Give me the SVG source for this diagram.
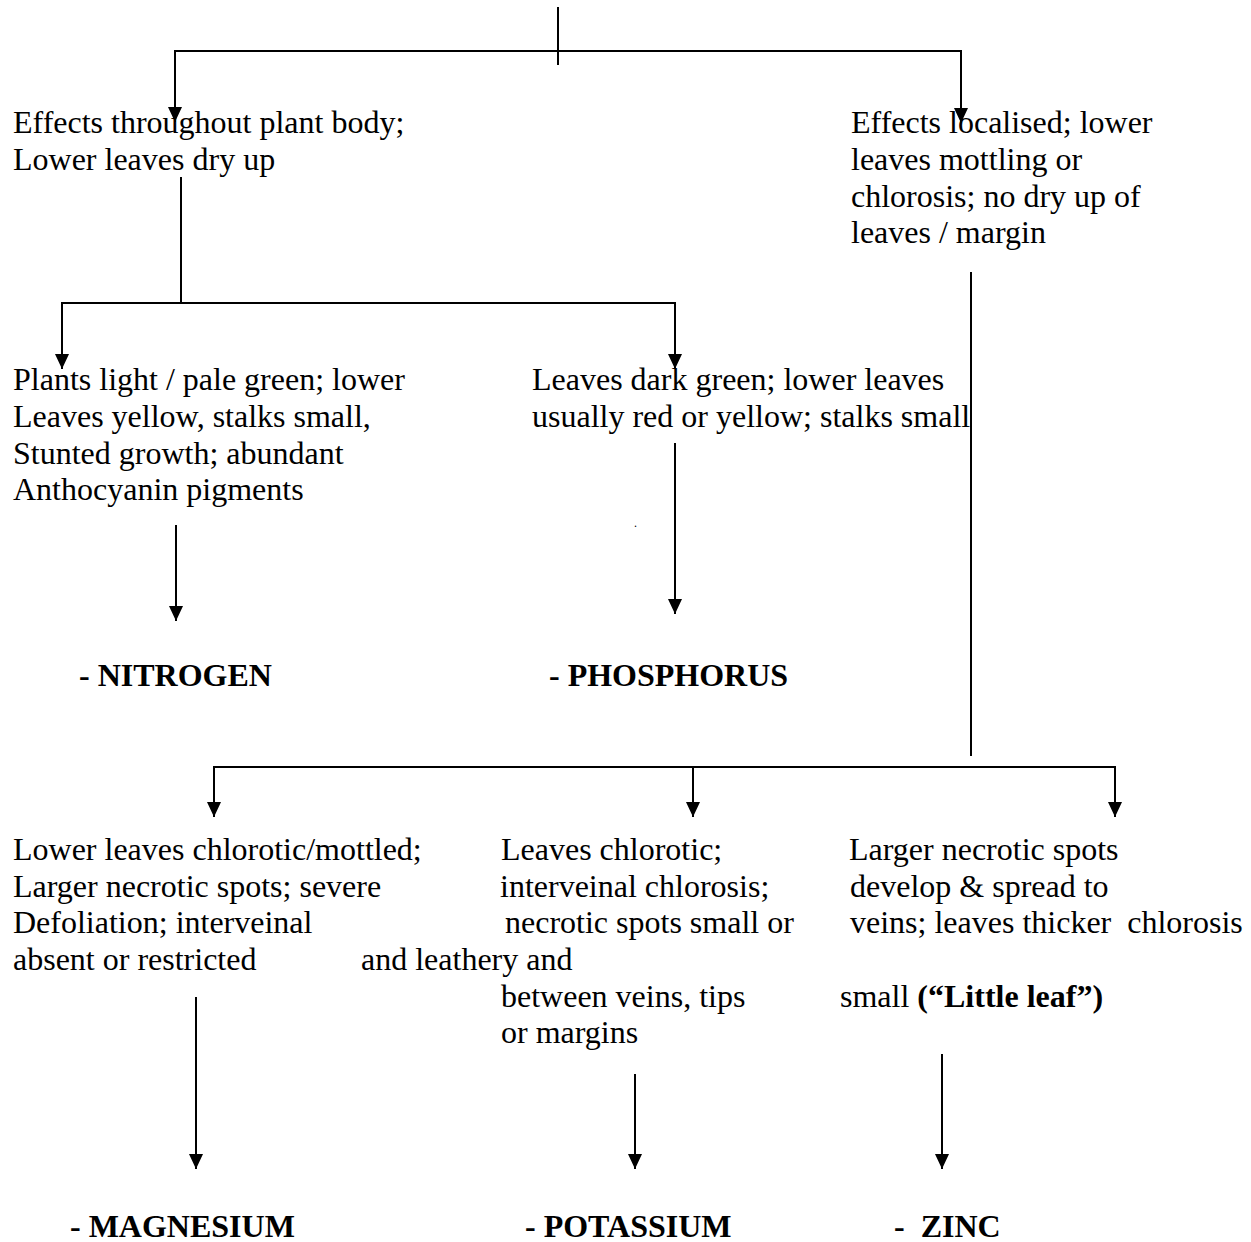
<svg xmlns="http://www.w3.org/2000/svg" width="1251" height="1242" viewBox="0 0 1251 1242">
  <style>
    text { font-family: "Liberation Serif", "Times New Roman", serif; font-size: 32px; fill: #000; }
    .b { font-weight: bold; }
    .ln { stroke: #000; stroke-width: 2; fill: none; }
    .ar { stroke: #000; stroke-width: 2; fill: none; marker-end: url(#ah); }
  </style>
  <defs>
    <marker id="ah" viewBox="0 0 15 14" refX="15" refY="7" markerWidth="15" markerHeight="14" markerUnits="userSpaceOnUse" orient="auto">
      <path d="M0,0 L15,7 L0,14 Z" fill="#000"/>
    </marker>
  </defs>
  <rect width="1251" height="1242" fill="#fff"/>

  <g id="connectors">
    <line class="ln" x1="558" y1="7" x2="558" y2="65"/>
    <polyline class="ar" points="558,51 175,51 175,122"/>
    <polyline class="ar" points="558,51 961,51 961,123"/>
    <line class="ln" x1="181" y1="177" x2="181" y2="303"/>
    <polyline class="ar" points="181,303 62,303 62,369"/>
    <polyline class="ar" points="181,303 675,303 675,369"/>
    <line class="ar" x1="176" y1="525" x2="176" y2="621"/>
    <line class="ar" x1="675" y1="443" x2="675" y2="614"/>
    <line class="ln" x1="971" y1="272" x2="971" y2="756"/>
    <polyline class="ar" points="693,767 214,767 214,817"/>
    <line class="ar" x1="693" y1="767" x2="693" y2="817"/>
    <polyline class="ar" points="693,767 1115,767 1115,817"/>
    <line class="ar" x1="196" y1="997" x2="196" y2="1169"/>
    <line class="ar" x1="635" y1="1074" x2="635" y2="1169"/>
    <line class="ar" x1="942" y1="1054" x2="942" y2="1169"/>
  </g>

  <g id="node-throughout">
    <text x="13" y="133">Effects throughout plant body;</text>
    <text x="13" y="170">Lower leaves dry up</text>
  </g>

  <g id="node-localised">
    <text x="851" y="133">Effects localised; lower</text>
    <text x="851" y="170">leaves mottling or</text>
    <text x="851" y="207">chlorosis; no dry up of</text>
    <text x="851" y="243">leaves / margin</text>
  </g>

  <g id="node-pale-green">
    <text x="13" y="390">Plants light / pale green; lower</text>
    <text x="13" y="427">Leaves yellow, stalks small,</text>
    <text x="13" y="464">Stunted growth; abundant</text>
    <text x="13" y="500">Anthocyanin pigments</text>
  </g>

  <g id="node-dark-green">
    <text x="532" y="390">Leaves dark green; lower leaves</text>
    <text x="532" y="427">usually red or yellow; stalks small</text>
    <text x="634" y="527" style="font-size:12px">.</text>
  </g>

  <g id="node-nitrogen">
    <text class="b" x="79" y="686">- NITROGEN</text>
  </g>

  <g id="node-phosphorus">
    <text class="b" x="549" y="686">- PHOSPHORUS</text>
  </g>

  <g id="node-mg-desc">
    <text x="13" y="860">Lower leaves chlorotic/mottled;</text>
    <text x="13" y="897">Larger necrotic spots; severe</text>
    <text x="13" y="933">Defoliation; interveinal</text>
    <text x="13" y="970">absent or restricted</text>
  </g>

  <g id="node-k-desc">
    <text x="501" y="860">Leaves chlorotic;</text>
    <text x="500" y="897">interveinal chlorosis;</text>
    <text x="505" y="933">necrotic spots small or</text>
    <text x="361" y="970">and leathery and</text>
    <text x="501" y="1007">between veins, tips</text>
    <text x="501" y="1043">or margins</text>
  </g>

  <g id="node-zn-desc">
    <text x="849" y="860">Larger necrotic spots</text>
    <text x="850" y="897">develop &amp; spread to</text>
    <text x="850" y="933" xml:space="preserve">veins; leaves thicker  chlorosis</text>
    <text x="840" y="1007">small <tspan class="b">(“Little leaf”)</tspan></text>
  </g>

  <g id="node-magnesium">
    <text class="b" x="70" y="1237">- MAGNESIUM</text>
  </g>

  <g id="node-potassium">
    <text class="b" x="525" y="1237">- POTASSIUM</text>
  </g>

  <g id="node-zinc">
    <text class="b" x="894" y="1237" xml:space="preserve">-  ZINC</text>
  </g>
</svg>
